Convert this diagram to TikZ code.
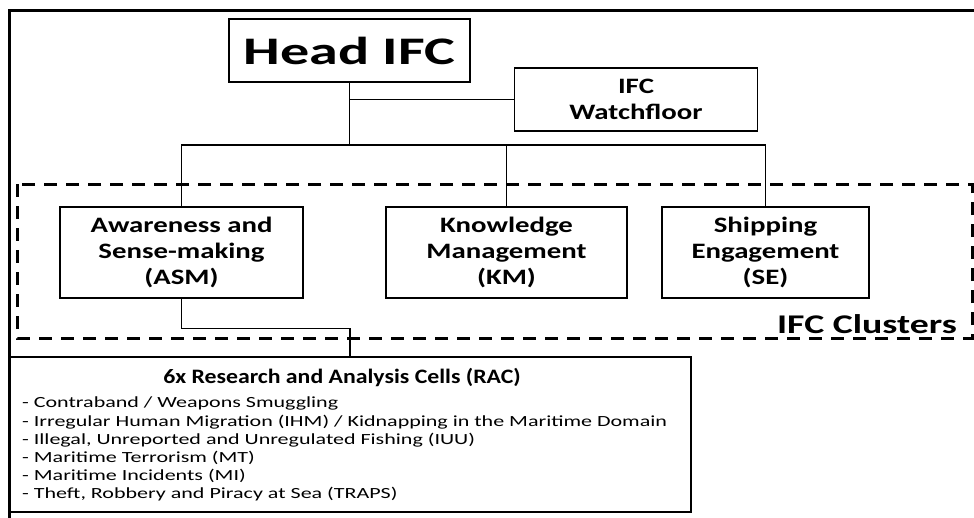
\documentclass[tikz,border=0pt]{standalone}
\usepackage{fontspec}
\setmainfont{Carlito}[FakeStretch=1.4]
\newfontfamily\headfam{Carlito}[FakeStretch=1.49]
\newfontfamily\boxfam{Carlito}[FakeStretch=1.31]
\newfontfamily\titlefam{Carlito}[FakeStretch=1.16]
\newfontfamily\listfam{Carlito}[FakeStretch=1.42]
\begin{document}
\begin{tikzpicture}[x=1pt,y=-1pt,
  box/.style={draw,line width=1.2pt,rectangle,inner sep=0pt,align=center},
  boxtext/.style={font=\boxfam\bfseries\fontsize{22}{26}\selectfont},
  conn/.style={line width=1.2pt},
  frame/.style={line width=3pt},
  cluster/.style={line width=3pt,dash pattern=on 13pt off 9pt}]
\useasboundingbox (0,0) rectangle (974,517);
\fill[white] (0,0) rectangle (974,517);
% outer frame
\draw[frame] (9,540) -- (9,10) -- (990,10);
% cluster dashed box
\draw[cluster] (17,184) rectangle (972,338);
\node[anchor=base east,inner sep=0pt,font=\bfseries\fontsize{27}{30}\selectfont] (clusters) at (957,333) {IFC Clusters};
% boxes
\node[box,minimum width=241pt,minimum height=63pt,font=\headfam\bfseries\fontsize{39}{44}\selectfont] (head) at (349.5,50.5) {Head IFC};
\node[box,boxtext,minimum width=243pt,minimum height=63pt] (watch) at (636,99.5) {IFC\\Watchfloor};
\node[box,boxtext,minimum width=243pt,minimum height=91pt] (asm) at (181.5,252.5) {Awareness and\\Sense-making\\(ASM)};
\node[box,boxtext,minimum width=241pt,minimum height=91pt] (km) at (506.5,252.5) {Knowledge\\Management\\(KM)};
\node[box,boxtext,minimum width=207pt,minimum height=91pt] (se) at (765.5,252.5) {Shipping\\Engagement\\(SE)};
\node[box,minimum width=682pt,minimum height=155pt] (rac) at (350,434.5) {};
\node[anchor=base,inner sep=0pt,font=\titlefam\bfseries\fontsize{20.5}{24}\selectfont] (ractitle) at (342,383) {6x Research and Analysis Cells (RAC)};
\node[anchor=north west,inner sep=0pt,align=left,font=\listfam\fontsize{15.5}{18.2}\selectfont] (raclist) at (22,397) {%
- Contraband / Weapons Smuggling\\
- Irregular Human Migration (IHM) / Kidnapping in the Maritime Domain\\
- Illegal, Unreported and Unregulated Fishing (IUU)\\
- Maritime Terrorism (MT)\\
- Maritime Incidents (MI)\\
- Theft, Robbery and Piracy at Sea (TRAPS)};
% connectors
\coordinate (bus) at (0,145);
\draw[conn] (head.south) -- (head.south |- bus);
\draw[conn] (head.south |- watch.west) -- (watch.west);
\draw[conn] (asm.north) -- (asm.north |- bus) -- (se.north |- bus) -- (se.north);
\draw[conn] (km.north |- bus) -- (km.north);
\draw[conn] (asm.south) -- ++(0,30) -| (rac.north);
\end{tikzpicture}
\end{document}
